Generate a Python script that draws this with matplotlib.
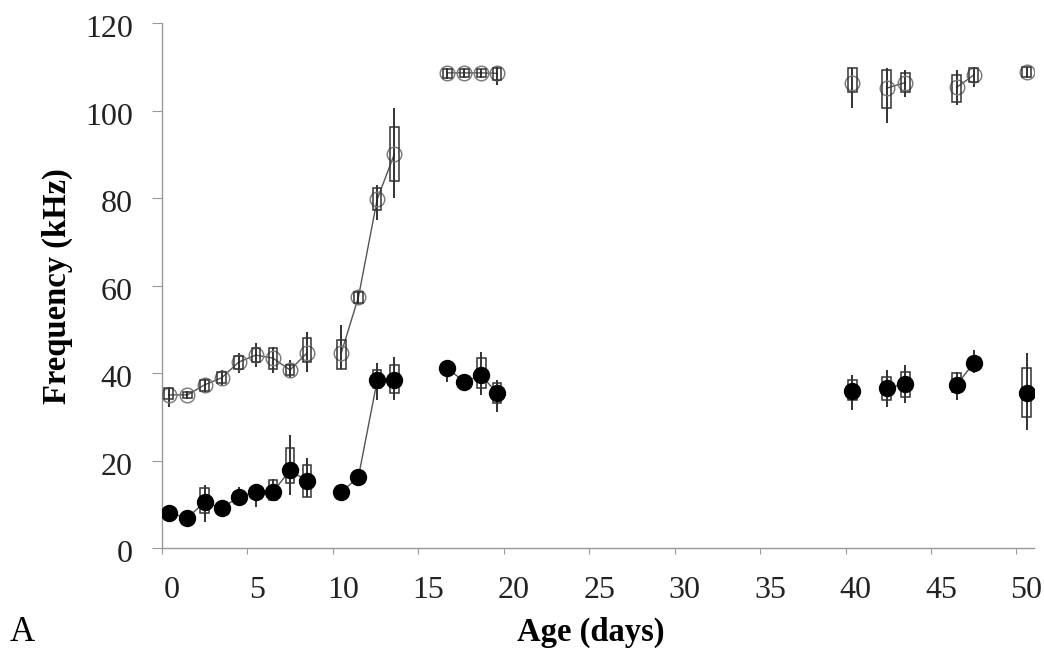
import numpy as np
import matplotlib
matplotlib.use("Agg")
import matplotlib.pyplot as plt
from matplotlib.transforms import ScaledTranslation

# ---- data ----
age = [0.4, 1.5, 2.5, 3.5, 4.5, 5.5, 6.5, 7.5, 8.5, 10.5, 11.5, 12.6, 13.6,
       16.7, 17.7, 18.7, 19.6, 40.4, 42.4, 43.5, 46.5, 47.5, 50.6]
segment = [0]*9 + [1]*4 + [2]*4 + [3] + [4, 4] + [5, 5] + [6]

upper_mean = [35.0, 35.0, 37.3, 38.9, 42.5, 44.1, 43.4, 40.7, 44.6, 44.6, 57.3, 79.7, 90.0,
              108.6, 108.6, 108.6, 108.5, 106.4, 105.1, 106.4, 105.3, 108.1, 108.8]
upper_q1 = [34.0, 34.3, 36.0, 37.7, 41.0, 42.5, 41.0, 39.5, 42.5, 41.0, 56.0, 77.3, 84.0,
            107.4, 107.6, 107.6, 107.0, 104.2, 100.6, 104.2, 101.9, 106.5, 107.7]
upper_q3 = [36.5, 35.7, 38.4, 40.2, 44.0, 45.7, 45.7, 41.8, 48.0, 47.5, 58.5, 82.3, 96.2,
            109.5, 109.5, 109.4, 109.7, 109.7, 109.3, 108.6, 108.1, 109.7, 109.9]
upper_lo = [32.2, 34.0, 35.4, 37.2, 40.0, 41.4, 40.0, 38.9, 40.2, 41.0, 55.5, 75.0, 80.0,
            107.2, 107.4, 107.4, 105.8, 100.6, 97.1, 103.0, 101.3, 105.4, 107.5]
upper_hi = [36.8, 36.0, 38.9, 40.7, 44.6, 46.9, 46.0, 43.0, 49.4, 51.0, 59.0, 83.0, 100.6,
            109.7, 109.7, 109.6, 109.9, 109.7, 109.7, 109.3, 109.3, 110.0, 110.0]

lower_mean = [8.0, 6.9, 10.5, 9.1, 11.7, 12.8, 12.8, 17.8, 15.3, 12.8, 16.2, 38.3, 38.5,
              41.1, 38.0, 39.5, 35.4, 35.9, 36.6, 37.5, 37.3, 42.3, 35.4]
lower_q1 = [7.5, 6.5, 8.0, 8.6, 10.5, 12.0, 11.0, 14.9, 11.7, 12.3, 15.6, 36.6, 35.4,
            40.0, 37.3, 36.6, 33.1, 33.8, 33.8, 34.5, 35.7, 41.5, 30.0]
lower_q3 = [8.5, 7.4, 13.7, 9.6, 12.8, 13.5, 15.5, 22.9, 19.0, 13.3, 16.8, 40.7, 41.8,
            42.0, 38.8, 43.4, 37.7, 38.4, 39.0, 40.2, 40.0, 43.2, 41.1]
lower_lo = [7.2, 6.2, 6.0, 8.4, 9.8, 9.4, 10.8, 12.1, 11.7, 12.0, 15.3, 33.8, 33.8,
            38.0, 36.0, 35.0, 31.0, 31.5, 32.2, 33.1, 33.8, 40.0, 27.0]
lower_hi = [8.8, 7.6, 14.4, 9.8, 14.0, 14.4, 15.8, 25.8, 20.6, 13.6, 17.0, 42.3, 43.7,
            43.0, 39.5, 44.8, 38.4, 39.5, 40.7, 41.8, 40.2, 45.3, 44.6]

x_ticks = [0, 5, 10, 15, 20, 25, 30, 35, 40, 45, 50]
y_ticks = [0, 20, 40, 60, 80, 100, 120]

# ---- figure ----
fig = plt.figure(figsize=(10.44, 6.59), dpi=100)
ax = fig.add_axes([0.155, 0.1684, 0.835, 0.7967])

age_a = np.array(age)
seg_a = np.array(segment)


def draw_series(mean, q1, q3, lo, hi, filled):
    mean = np.array(mean); q1 = np.array(q1); q3 = np.array(q3)
    # connecting lines per segment
    for s in np.unique(seg_a):
        m = seg_a == s
        if m.sum() > 1:
            ax.plot(age_a[m], mean[m], color='#555555', lw=1.0, zorder=2)
    # whiskers
    ax.vlines(age_a, lo, hi, color='#222222', lw=1.3, zorder=3)
    # boxes
    ax.bar(age_a, q3 - q1, bottom=q1, width=0.5, fill=False,
           edgecolor='#333333', linewidth=1.1, zorder=4 if not filled else 3)
    # markers
    if filled:
        ax.plot(age_a, mean, 'o', ms=11.5, mfc='black', mec='black', linestyle='none', zorder=5)
    else:
        ax.plot(age_a, mean, 'o', ms=10.5, mfc='none', mec='#777777', mew=1.0,
                linestyle='none', zorder=3.5)


draw_series(upper_mean, upper_q1, upper_q3, upper_lo, upper_hi, filled=False)
draw_series(lower_mean, lower_q1, lower_q3, lower_lo, lower_hi, filled=True)

ax.set_xlim(0, 51)
ax.set_ylim(0, 120)
ax.set_xticks(x_ticks)
ax.set_yticks(y_ticks)

for sp in ['top', 'right']:
    ax.spines[sp].set_visible(False)
for sp in ['left', 'bottom']:
    ax.spines[sp].set_color('#999999')
    ax.spines[sp].set_linewidth(1.0)

serif = ['Liberation Serif', 'DejaVu Serif']
ax.tick_params(axis='y', direction='out', length=7, width=0.8, color='#999999',
               pad=14, labelsize=23)
ax.tick_params(axis='x', direction='out', length=4, width=0.8, color='#999999',
               pad=16, labelsize=23)
for lab in ax.get_xticklabels() + ax.get_yticklabels():
    lab.set_family(serif)
    lab.set_color('#222222')
offset = ScaledTranslation(10/100, 0, fig.dpi_scale_trans)
for lab in ax.get_xticklabels():
    lab.set_transform(lab.get_transform() + offset)
yoff = ScaledTranslation(0, -3/100, fig.dpi_scale_trans)
for lab in ax.get_yticklabels():
    lab.set_transform(lab.get_transform() + yoff)

fig.text(0.055, 0.566, 'Frequency (kHz)', rotation=90, ha='center', va='center',
         family=serif, fontweight='bold', fontsize=23.5)
fig.text(0.566, 0.04, 'Age (days)', ha='center', va='center',
         family=serif, fontweight='bold', fontsize=23.5)
fig.text(0.021, 0.04, 'A', ha='center', va='center', family=serif, fontsize=25)

fig.savefig('out.png', dpi=100)
